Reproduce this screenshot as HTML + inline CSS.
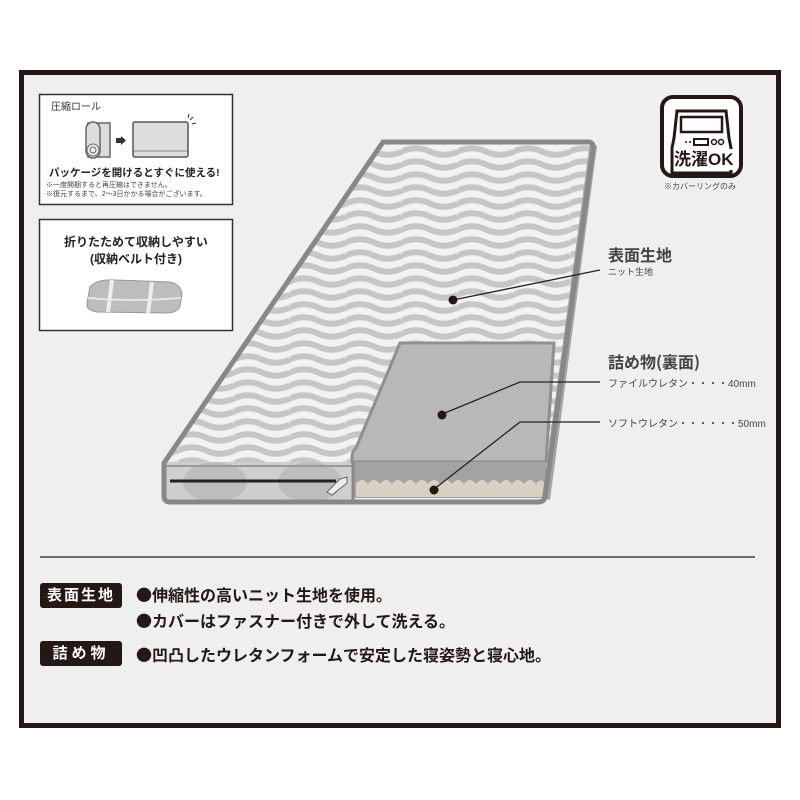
<!DOCTYPE html>
<html><head><meta charset="utf-8"><style>
body{margin:0;width:800px;height:800px;background:#fff;font-family:"Liberation Sans","Noto Sans CJK JP",sans-serif;position:relative;overflow:hidden}
.a{position:absolute;white-space:nowrap}
.j{font-family:"Noto Sans CJK JP","Liberation Sans",sans-serif}
</style></head><body>
<div class="a" style="left:19px;top:70px;width:752px;height:648px;border:5px solid #231815;background:#efefef"></div>

<svg class="a" style="left:0;top:0" width="800" height="800" viewBox="0 0 800 800">
<defs>
<pattern id="w" width="56" height="13" patternUnits="userSpaceOnUse" x="10" y="2">
<path d="M0,6.5 Q14,0 28,6.5 T56,6.5" fill="none" stroke="#c6c6c6" stroke-width="6"/>
<path d="M-56,6.5 Q-42,0 -28,6.5 T0,6.5" fill="none" stroke="#c6c6c6" stroke-width="6"/>
</pattern>
<clipPath id="c"><polygon points="383,142 590,142 548,462 165,462"/></clipPath>
</defs>
<rect x="39.5" y="94.5" width="193" height="110" fill="#fff" stroke="#333" stroke-width="1.5"/>
<rect x="39.5" y="219.5" width="193" height="111" fill="#fff" stroke="#333" stroke-width="1.5"/>
<rect x="88" y="123" width="22" height="34" fill="#ddd" stroke="#666" stroke-width="1.5"/>
<rect x="86" y="122" width="14" height="36" rx="7" fill="#ddd" stroke="#666" stroke-width="1.5"/>
<circle cx="93" cy="150" r="6" fill="#eee" stroke="#666"/><circle cx="93" cy="150" r="3" fill="none" stroke="#666"/>
<rect x="116" y="138" width="5" height="5" fill="#333"/><polygon points="121,136 126,140.5 121,145" fill="#333"/>
<rect x="133" y="122" width="55" height="35" rx="2" fill="#ddd" stroke="#555" stroke-width="1.5"/>
<line x1="134" y1="151" x2="187" y2="151" stroke="#888"/>
<path d="M190,120 l3,-3 M192,124 l4,-1 M188,118 l1,-4" stroke="#333"/>
<path d="M90,287 Q96,279 115,280 L170,282 Q182,285 182,295 L180,306 Q178,313 165,313 L98,312 Q86,311 87,303 Z" fill="#bdbdbd" stroke="#999"/>
<path d="M88,298 Q130,302 181,298" stroke="#e6e6e6" stroke-width="2" fill="none"/>
<path d="M112,280 L108,312 M152,282 L148,314" stroke="#eee" stroke-width="4"/>
<polygon points="383,142 590,142 548,462 165,462" fill="#f2f2f2"/>
<rect x="150" y="130" width="460" height="340" fill="url(#w)" clip-path="url(#c)"/>
<rect x="165" y="462" width="188" height="38" fill="#cfcfcf"/>
<ellipse cx="215" cy="482" rx="32" ry="20" fill="#bdbdbd"/><ellipse cx="310" cy="482" rx="32" ry="20" fill="#bdbdbd"/>
<line x1="166" y1="466" x2="353" y2="466" stroke="#999" stroke-width="2"/>
<line x1="170" y1="481" x2="336" y2="481" stroke="#222" stroke-width="3"/>
<path d="M327,492 L340,479 L347,477 L347,483 L332,495 Z" fill="#eee" stroke="#666"/>
<path d="M400,343 L554,343 L546,462 L352,462 L352,457 Q352,452 356,448 Z" fill="#b8b8b8" stroke="#909090" stroke-width="3"/>
<rect x="353" y="462" width="193" height="36" fill="#a3a3a3"/>
<path d="M356,497 L356,484 Q362,476 368,484 Q374,476 380,484 Q386,476 392,484 Q398,476 404,484 Q410,476 416,484 Q422,476 428,484 Q434,476 440,484 Q446,476 452,484 Q458,476 464,484 Q470,476 476,484 Q482,476 488,484 Q494,476 500,484 Q506,476 512,484 Q518,476 524,484 Q530,476 536,484 Q540,478 544,482 L544,497 Z" fill="#d9d0c2"/>
<polygon points="590,142 597,146 550,500 542,498" fill="#a4a4a4"/>
<path d="M383,142 L588,142 Q594,142 593,149 L545,497 Q544,502 538,502 L170,502 Q164,502 164,496 L164,463 Z" fill="none" stroke="#888" stroke-width="5" stroke-linejoin="round"/>
<line x1="353" y1="462" x2="353" y2="500" stroke="#888" stroke-width="3"/>
<polyline points="453,300 600,270" fill="none" stroke="#222" stroke-width="1.3"/>
<polyline points="440,415 520,382 600,382" fill="none" stroke="#222" stroke-width="1.3"/>
<polyline points="433,490 520,422 600,422" fill="none" stroke="#222" stroke-width="1.3"/>
<circle cx="453" cy="300" r="4.5" fill="#231815"/><circle cx="442" cy="415" r="4.5" fill="#231815"/><circle cx="434" cy="490" r="4.5" fill="#231815"/>
<rect x="662" y="97" width="79" height="79" rx="11" fill="#fff" stroke="#231815" stroke-width="4"/>
<path d="M677,111 L726,111 L729,138 L731,148 L731,173 L672,173 L672,148 L674,138 Z" fill="none" stroke="#231815" stroke-width="3"/>
<rect x="681" y="117" width="41" height="15" fill="none" stroke="#231815" stroke-width="2.5"/>
<rect x="694" y="139" width="14" height="6" fill="none" stroke="#231815" stroke-width="2"/>
<circle cx="714" cy="142" r="2.5" fill="none" stroke="#231815" stroke-width="1.5"/><circle cx="721" cy="142" r="2.5" fill="none" stroke="#231815" stroke-width="1.5"/>
<circle cx="686" cy="142" r="1" fill="#231815"/><circle cx="690" cy="142" r="1" fill="#231815"/>
<line x1="40" y1="557" x2="755" y2="557" stroke="#231815" stroke-width="1.3"/>
</svg>

<div class="a" style="left:674px;top:149px;font-size:17px;font-weight:bold;color:#231815;background:#fff;line-height:21px">洗濯OK</div>
<div class="a" style="left:664px;top:181px;font-size:8px;color:#444">※カバーリングのみ</div>

<div class="a" style="left:51px;top:98px;font-size:10px;color:#333">圧縮ロール</div>
<div class="a" style="left:49px;top:165px;font-size:10.5px;font-weight:bold;color:#222">パッケージを開けるとすぐに使える!</div>
<div class="a" style="left:46px;top:181px;font-size:7px;color:#444;line-height:9px">※一度開梱すると再圧縮はできません。<br>※復元するまで、2〜3日かかる場合がございます。</div>
<div class="a" style="left:40px;top:234px;width:192px;text-align:center;font-size:12px;font-weight:bold;color:#222;line-height:17px">折りたためて収納しやすい<br>(収納ベルト付き)</div>

<div class="a j" style="left:608px;top:242px;font-size:16px;font-weight:bold;color:#444">表面生地</div>
<div class="a" style="left:608px;top:265px;font-size:9px;color:#444">ニット生地</div>
<div class="a j" style="left:608px;top:349px;font-size:16px;font-weight:bold;color:#444">詰め物(裏面)</div>
<div class="a" style="left:608px;top:375px;font-size:10px;color:#444">ファイルウレタン・・・・40mm</div>
<div class="a" style="left:608px;top:415px;font-size:10px;color:#444">ソフトウレタン・・・・・・50mm</div>

<div class="a" style="left:40px;top:583px;width:82px;height:25px;background:#231815;border-radius:3px;color:#fff;font-size:15px;font-weight:bold;text-align:center;line-height:25px;letter-spacing:2px">表面生地</div>
<div class="a" style="left:40px;top:641px;width:82px;height:25px;background:#231815;border-radius:3px;color:#fff;font-size:15px;font-weight:bold;text-align:center;line-height:25px;letter-spacing:4px">詰め物</div>
<div class="a j" style="left:136px;top:582px;font-size:16px;font-weight:bold;color:#231815;line-height:24px">●伸縮性の高いニット生地を使用。</div>
<div class="a j" style="left:136px;top:608px;font-size:16px;font-weight:bold;color:#231815;line-height:24px">●カバーはファスナー付きで外して洗える。</div>
<div class="a j" style="left:136px;top:642px;font-size:16px;font-weight:bold;color:#231815;line-height:24px">●凹凸したウレタンフォームで安定した寝姿勢と寝心地。</div>
</body></html>
